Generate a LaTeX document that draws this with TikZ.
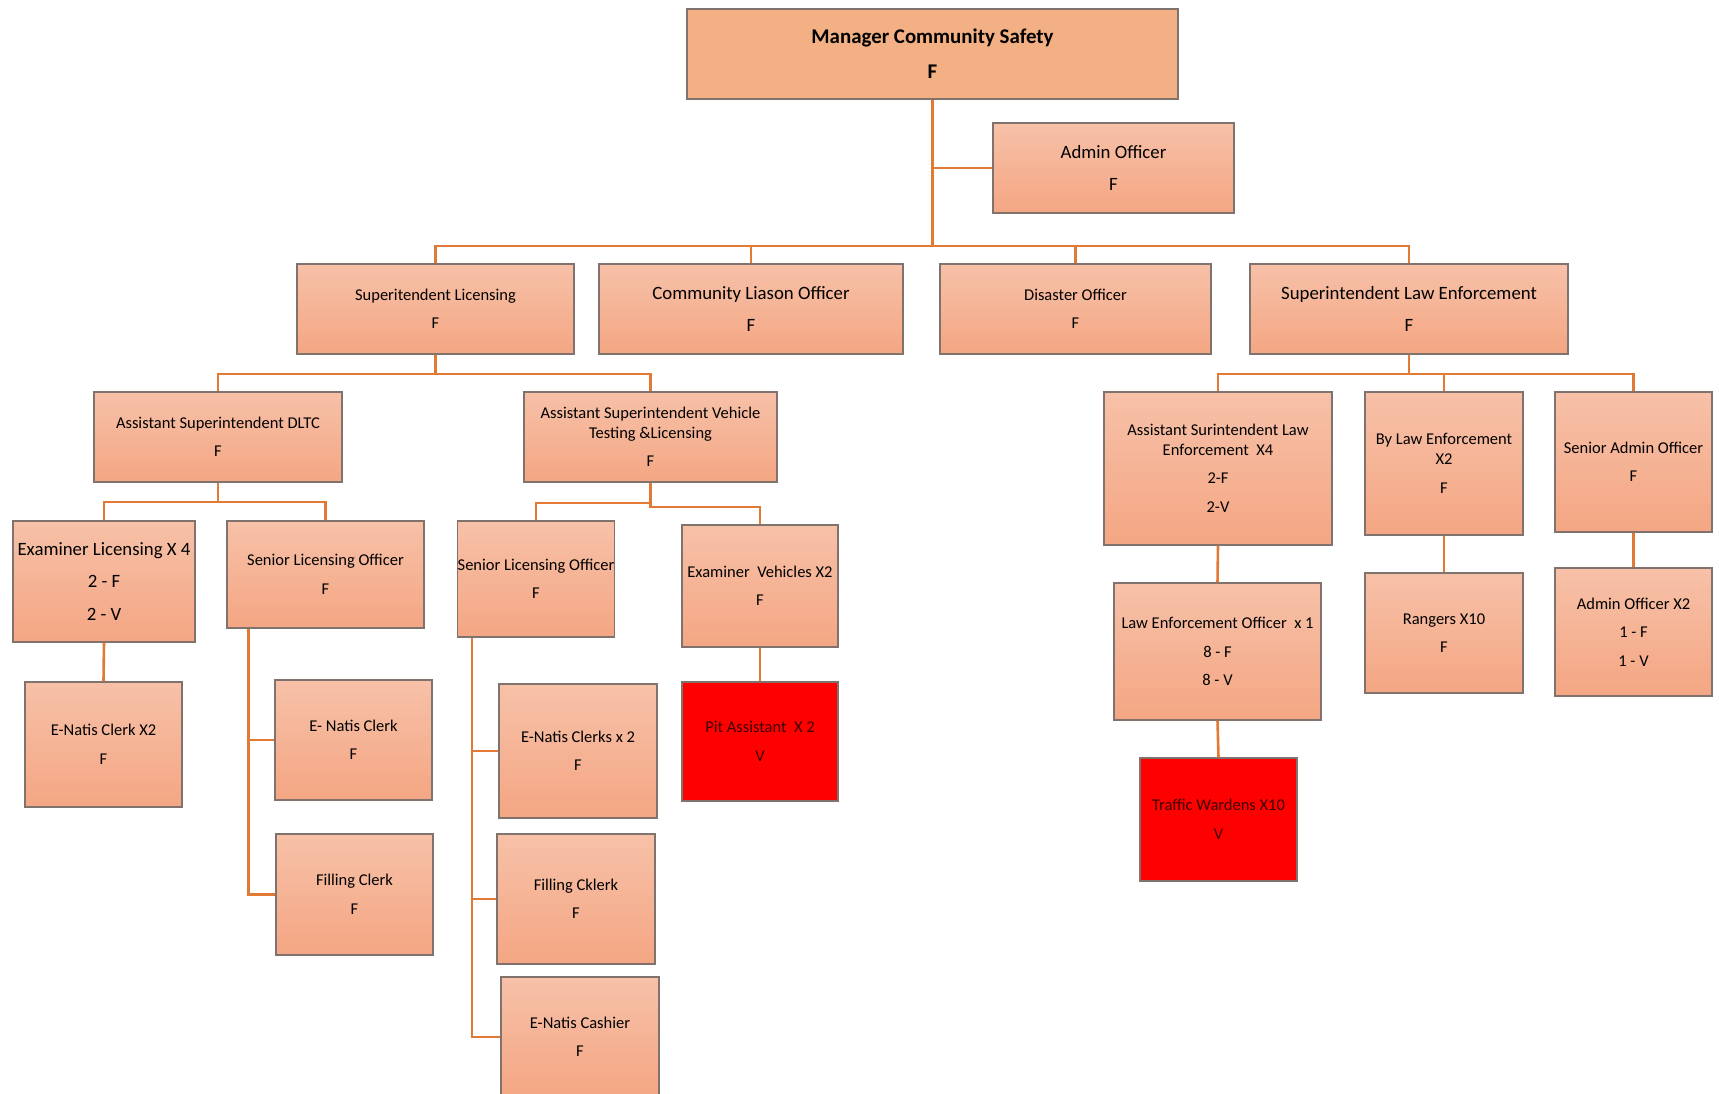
\documentclass[tikz,border=0pt]{standalone}
\usepackage{fontspec}
\setmainfont{Carlito}
\definecolor{boxtop}{RGB}{247,193,168}
\definecolor{boxbot}{RGB}{244,166,131}
\definecolor{headfill}{RGB}{243,176,132}
\definecolor{boxline}{RGB}{128,114,108}
\definecolor{linkline}{RGB}{226,121,52}
\definecolor{vacfill}{RGB}{255,0,0}
\tikzset{box/.style={draw=boxline, line width=1.1pt, top color=boxtop, bottom color=boxbot,
           align=center, inner sep=0pt},
         vacant/.style={draw=boxline, line width=1.1pt, fill=vacfill, text={rgb,255:red,60;green,0;blue,0},
           align=center, inner sep=0pt},
         wh/.style 2 args={minimum width=#1pt, minimum height=#2pt},
         fsmall/.style={font=\fontsize{16.5}{28.5}\selectfont},
         fbig/.style={font=\fontsize{18.8}{32.5}\selectfont},
         link/.style={draw=linkline, line width=2.6pt}}

\begin{document}
\begin{tikzpicture}[x=1pt, y=-1pt]
        \useasboundingbox (0,0) rectangle (1719,1093);
        \fill[white] (0,0) rectangle (1719,1093);
        \clip (0,0) rectangle (1719,1093);

        % Manager and admin
        \node[draw=boxline, line width=1.1pt, fill=headfill, align=center, wh={491}{90},
              font=\bfseries\fontsize{20.9}{35}\selectfont] (mcs) at (932.5,54) {Manager Community Safety\\F};
        \node[box, wh={241}{90}, fbig] (admin) at (1113.5,168) {Admin Officer\\F};

        % Second row
        \node[box, wh={277}{90}, fsmall] (suplic) at (435.5,309) {Superitendent Licensing\\F};
        \node[box, wh={304}{90}, fbig] (clo) at (751,309) {Community Liason Officer\\F};
        \node[box, wh={271}{90}, fsmall] (disaster) at (1075.5,309) {Disaster Officer\\F};
        \node[box, wh={318}{90}, fbig] (suplaw) at (1409,309) {Superintendent Law Enforcement\\F};

        % Licensing side
        \node[box, wh={248}{90}, fsmall] (asdltc) at (218,437) {Assistant Superintendent DLTC\\F};
        \node[box, wh={253}{90}, fsmall] (asvtl) at (650.5,437) {Assistant Superintendent Vehicle\\[-8.5pt]Testing \&Licensing\\F};

        \node[box, wh={182}{121}, fbig] (examlic) at (104,581.5) {Examiner Licensing X 4\\2 - F\\2 - V};
        \node[box, wh={197}{107}, fsmall] (slo1) at (325.5,574.5) {Senior Licensing Officer\\F};
        \node[box, wh={157}{125}, fsmall] (enclerk) at (103.5,744.5) {E-Natis Clerk X2\\F};
        \node[box, wh={157}{120}, fsmall] (enclerk1) at (353.5,740) {E- Natis Clerk\\F};
        \node[box, wh={157}{121}, fsmall] (filclerk) at (354.5,894.5) {Filling Clerk\\F};

        \node[box, wh={156}{116}, fsmall] (slo2) at (536,579) {Senior Licensing Officer\\F};
        \node[box, wh={156}{122}, fsmall] (examveh) at (760,586) {Examiner~~Vehicles X2\\F};
        \node[vacant, wh={156}{119}, fsmall] (pit) at (760,741.5) {Pit Assistant~~X 2\\V};
        \node[box, wh={158}{134}, fsmall] (enclerks) at (578,751) {E-Natis Clerks x 2\\F};
        \node[box, wh={158}{130}, fsmall] (filcklerk) at (576,899) {Filling Cklerk\\F};
        \node[box, wh={158}{120}, fsmall] (encashier) at (580,1037) {E-Natis Cashier\\F};

        % Law enforcement side
        \node[box, wh={228}{153}, fsmall] (asle) at (1218,468.5) {Assistant Surintendent Law\\[-9pt]Enforcement~~X4\\2-F\\2-V};
        \node[box, wh={158}{143}, fsmall] (bylaw) at (1444,463.5) {By Law Enforcement\\[-8.5pt]X2\\F};
        \node[box, wh={157}{140}, fsmall] (senadmin) at (1633.5,462) {Senior Admin Officer\\F};
        \node[box, wh={207}{137}, fsmall] (leo) at (1217.5,651.5) {Law Enforcement Officer~~x 1\\8 - F\\8 - V};
        \node[vacant, wh={157}{123}, fsmall] (tw) at (1218.5,819.5) {Traffic Wardens X10\\V};
        \node[box, wh={158}{120}, fsmall] (rangers) at (1444,633) {Rangers X10\\F};
        \node[box, wh={157}{128}, fsmall] (admin2) at (1633.5,632) {Admin Officer X2\\1 - F\\1 - V};

        % Connectors
        \coordinate (bustop) at (932.5,246);
        \draw[link] (mcs.south) -- (bustop);
        \draw[link] (mcs.south |- admin.west) -- (admin.west);
        \draw[link] (suplic.north) |- (bustop) -| (suplaw.north);
        \draw[link] (clo.north) -- (clo.north |- bustop);
        \draw[link] (disaster.north) -- (disaster.north |- bustop);

        \coordinate (buslic) at (435.5,374);
        \draw[link] (suplic.south) -- (buslic);
        \draw[link] (asdltc.north) |- (buslic) -| (asvtl.north);

        \coordinate (buslaw) at (1409,374);
        \draw[link] (suplaw.south) -- (buslaw);
        \draw[link] (asle.north) |- (buslaw) -| (senadmin.north);
        \draw[link] (bylaw.north) -- (bylaw.north |- buslaw);

        \coordinate (busdltc) at (218,502);
        \draw[link] (asdltc.south) -- (busdltc);
        \draw[link] (examlic.north) |- (busdltc) -| (slo1.north);
        \draw[link] (examlic.south) -- (enclerk.north);

        \coordinate (busvtl) at (650.5,503);
        \coordinate (busveh) at (650.5,507);
        \draw[link] (asvtl.south) -- (busveh) -| (examveh.north);
        \draw[link] (busvtl) -| (slo2.north);
        \draw[link] (examveh.south) -- (pit.north);

        \draw[link] (slo1.south west) ++(22,0) |- (filclerk.west);
        \draw[link] (slo1.south west) ++(22,0) |- (enclerk1.west);

        \draw[link] (slo2.south west) ++(15,0) |- (encashier.west);
        \draw[link] (slo2.south west) ++(15,0) |- (filcklerk.west);
        \draw[link] (slo2.south west) ++(15,0) |- (enclerks.west);

        \draw[link] (asle.south) -- (leo.north);
        \draw[link] (leo.south) -- (tw.north);
        \draw[link] (bylaw.south) -- (rangers.north);
        \draw[link] (senadmin.south) -- (admin2.north);
    \end{tikzpicture}
\end{document}
